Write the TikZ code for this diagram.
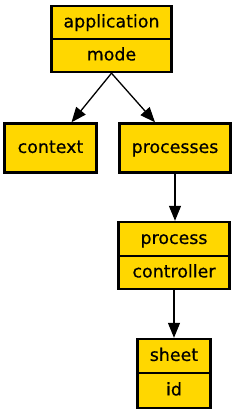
\documentclass[tikz,border=0pt]{standalone}
\usepackage{fontspec}
\setmainfont[FakeBold=0.5]{DejaVu Sans}
\usetikzlibrary{arrows.meta,calc}
\definecolor{boxgold}{HTML}{FFD700}
\begin{document}
\begin{tikzpicture}[x=1pt,y=-1pt,
  box/.style={draw=black,fill=boxgold,line width=2.4pt,rectangle,inner sep=0pt,
    text height=12.9pt,text depth=3pt,
    font=\fontsize{17.4}{20}\selectfont},
  conn/.style={line width=1.3pt,-{Triangle[length=15pt,width=12pt]}}]
\useasboundingbox (0,0) rectangle (235,413);
\node[box,minimum width=120pt,minimum height=33pt] (app) at (111.5,22.5) {application};
\node[box,minimum width=120pt,minimum height=33pt] (mode) at (111.5,55.5) {mode};
\node[box,minimum width=92pt,minimum height=49pt] (context) at (50.5,148) {context};
\node[box,minimum width=111pt,minimum height=49pt] (processes) at (175,148) {processes};
\node[box,minimum width=111pt,minimum height=34pt] (process) at (174,239) {process};
\node[box,minimum width=111pt,minimum height=33pt] (controller) at (174,272.5) {controller};
\node[box,minimum width=73pt,minimum height=34pt] (sheet) at (174,356) {sheet};
\node[box,minimum width=73pt,minimum height=35pt] (id) at (174,390.5) {id};
\draw[conn] (mode.south) -- ($(context.north)+(21,0)$);
\draw[conn] (mode.south) -- ($(processes.north)+(-20,0)$);
\draw[conn] (processes.south) -- (processes.south |- process.north);
\draw[conn] (controller.south) -- (controller.south |- sheet.north);
\end{tikzpicture}
\end{document}
